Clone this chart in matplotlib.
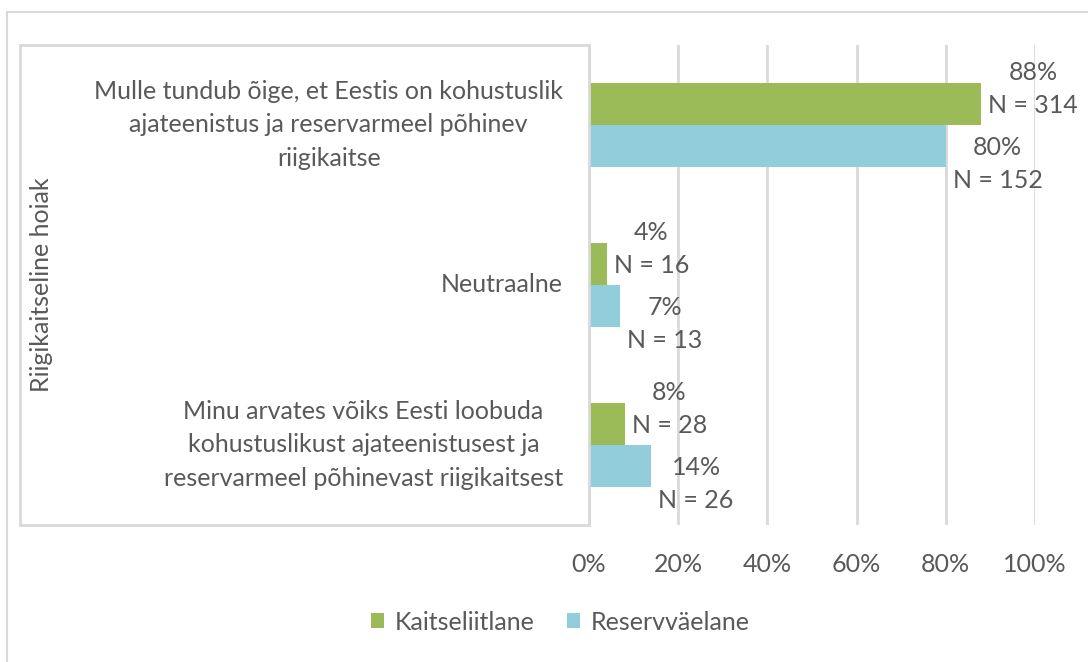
import numpy as np
import matplotlib
matplotlib.use('Agg')
import matplotlib.pyplot as plt
from matplotlib.patches import Rectangle

categories = ['Mulle tundub õige, et Eestis on kohustuslik\najateenistus ja reservarmeel põhinev\nriigikaitse',
              'Neutraalne',
              'Minu arvates võiks Eesti loobuda\nkohustuslikust ajateenistusest ja\nreservarmeel põhinevast riigikaitsest']
series_names = ['Kaitseliitlane', 'Reservväelane']
kl_pct = [88, 4, 8]
kl_n = [314, 16, 28]
rv_pct = [80, 7, 14]
rv_n = [152, 13, 26]
xticks = [0, 20, 40, 60, 80, 100]
ytitle = 'Riigikaitseline hoiak'

green = '#9BBB59'
blue = '#92CDDC'
txt = '#595959'
grid = '#D9D9D9'
fs = 18

plt.rcParams['font.family'] = ['Lato', 'DejaVu Sans']

W, H = 1088, 662
fig = plt.figure(figsize=(W/100, H/100), dpi=100)
ax = fig.add_axes([589/W, 1-525/H, (1035-589)/W, (525-45)/H])

y = np.arange(len(categories))[::-1].astype(float)
h = 0.262
ax.barh(y + h/2, kl_pct, height=h, color=green, label=series_names[0], zorder=3)
ax.barh(y - h/2, rv_pct, height=h, color=blue, label=series_names[1], zorder=3)

for yi, p, n in zip(y, kl_pct, kl_n):
    ax.annotate('%d%%\nN = %d' % (p, n), xy=(p, yi + h/2), xytext=(5, 11),
                textcoords='offset points', ha='left', va='center',
                multialignment='center', fontsize=fs, color=txt, linespacing=1.55)
for yi, p, n in zip(y, rv_pct, rv_n):
    ax.annotate('%d%%\nN = %d' % (p, n), xy=(p, yi - h/2), xytext=(5, -13),
                textcoords='offset points', ha='left', va='center',
                multialignment='center', fontsize=fs, color=txt, linespacing=1.55)

ax.set_xlim(0, 100)
ax.set_ylim(-0.5, len(categories) - 0.5)
ax.set_xticks(xticks)
ax.set_xticklabels(['%d%%' % t for t in xticks])
ax.set_yticks([])
ax.tick_params(axis='x', length=0, pad=20, labelsize=fs, labelcolor=txt)
ax.grid(axis='x', color=grid, linewidth=2, zorder=0)
for s in ax.spines.values():
    s.set_visible(False)

for yi, c in zip(y, categories):
    ax.text(-0.058, (yi + 0.5) / len(categories), c, transform=ax.transAxes,
            ha='right', va='center', multialignment='center',
            fontsize=fs, color=txt, linespacing=1.55)

# box round the category labels
fig.patches.append(Rectangle((20/W, 1-525/H), (589-20)/W, (525-45)/H,
                             transform=fig.transFigure, fill=False,
                             edgecolor=grid, linewidth=2))
# outer chart border
fig.patches.append(Rectangle((7/W, -0.1), 2, 1.1 - 12/H,
                             transform=fig.transFigure, fill=False,
                             edgecolor=grid, linewidth=1.5))

fig.text(42/W, 1-285/H, ytitle, rotation=90, ha='center', va='center',
         fontsize=fs, color=txt)

fig.legend(loc='center', bbox_to_anchor=(560/W, 1-622/H), ncol=2, frameon=False,
           fontsize=fs, labelcolor=txt, handlelength=0.55, handleheight=0.55,
           handletextpad=0.4, columnspacing=1.3)

fig.savefig('out.png', dpi=100)
